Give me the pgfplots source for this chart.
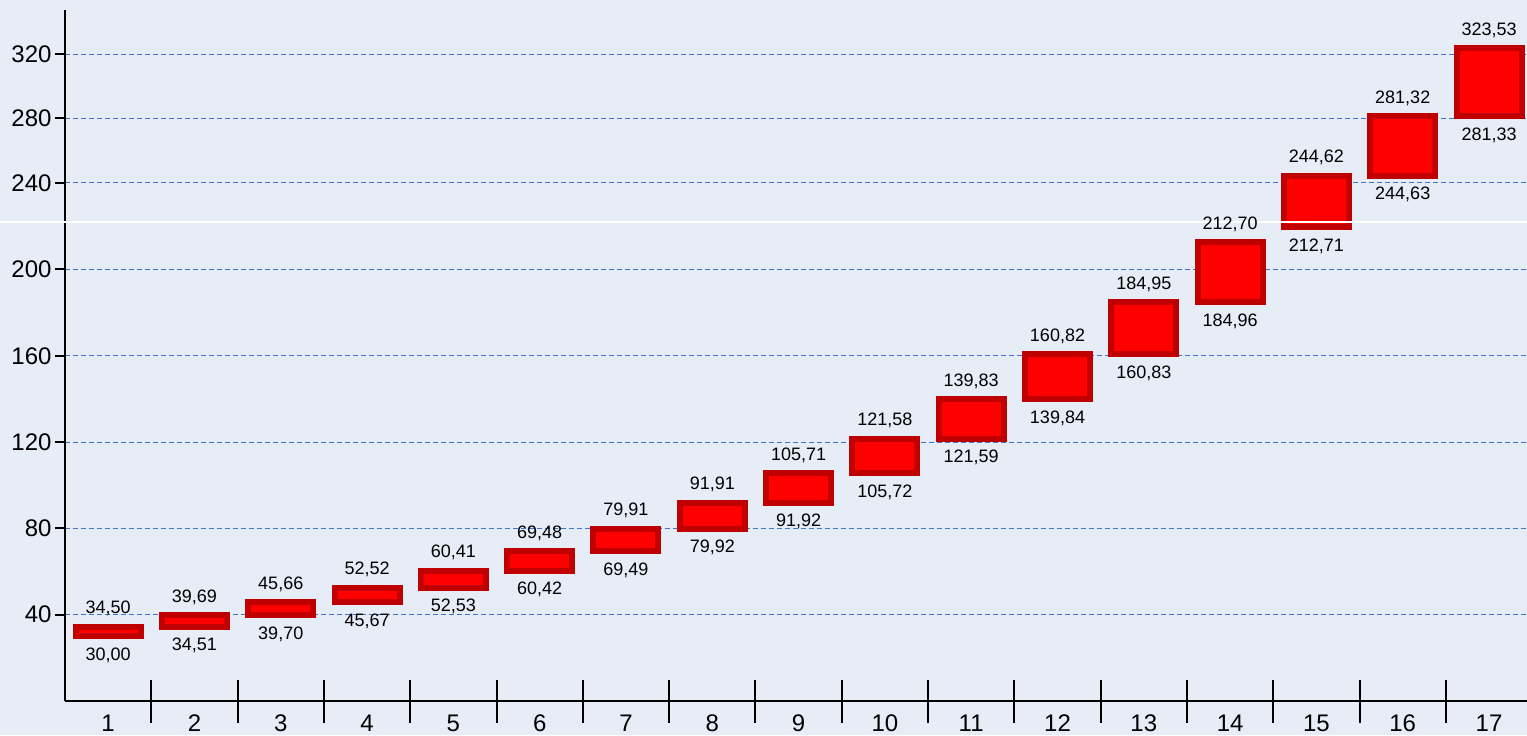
\documentclass[border=0pt]{standalone}
\usepackage{fontspec}
\setmainfont{Liberation Sans}
\usepackage{pgfplots}
\pgfplotsset{compat=1.18}
\usepackage{pgfplotstable}
\definecolor{bg}{RGB}{230,237,247}
\definecolor{gridblue}{RGB}{68,114,196}
\definecolor{barred}{RGB}{255,0,0}
\definecolor{bardark}{RGB}{192,0,0}

\pgfplotstableread{
x low high lowlab highlab
1 30.00 34.50 30,00 34,50
2 34.51 39.69 34,51 39,69
3 39.70 45.66 39,70 45,66
4 45.67 52.52 45,67 52,52
5 52.53 60.41 52,53 60,41
6 60.42 69.48 60,42 69,48
7 69.49 79.91 69,49 79,91
8 79.92 91.91 79,92 91,91
9 91.92 105.71 91,92 105,71
10 105.72 121.58 105,72 121,58
11 121.59 139.83 121,59 139,83
12 139.84 160.82 139,84 160,82
13 160.83 184.95 160,83 184,95
14 184.96 212.70 184,96 212,70
}\lowtab
\pgfplotstableread{
x low high lowlab highlab
15 212.71 244.62 212,71 244,62
16 244.63 281.32 244,63 281,32
17 281.33 323.53 281,33 323,53
}\uptab

\pgfplotsset{
  geom/.style={
    width=731pt, scale only axis, xmin=0.5, xmax=17.44,
    clip=false, anchor=south west,
  },
  common/.style={
    geom,
    ybar stacked, bar width=32.5pt,
    axis line style={black, line width=1pt},
    ytick align=outside, major tick length=5pt,
    major y tick style={black, line width=1pt},
    ymajorgrids,
    grid style={gridblue, line width=0.5pt, dash pattern=on 2.5pt off 1.5pt},
    /pgf/number format/assume math mode=true,
    tick label style={font=\fontsize{12}{14}\selectfont},
    yticklabel style={xshift=1.8pt},
  },
  basebar/.style={draw=none, fill=none},
  visbar/.style={draw=bardark, fill=barred, line width=3pt},
  lowlabel/.style={draw=none, nodes near coords,
    point meta=explicit symbolic,
    every node near coord/.style={anchor=north, inner sep=0pt, yshift=-5.6pt,
      font=\fontsize{9}{10}\selectfont, text=black}},
  highlabel/.style={draw=none, nodes near coords,
    point meta=explicit symbolic,
    every node near coord/.style={anchor=south, inner sep=0pt, yshift=5pt,
      font=\fontsize{9}{10}\selectfont, text=black}},
}

\begin{document}
\begin{tikzpicture}
\fill[bg] (0,0) rectangle (763.5pt,367.5pt);
\useasboundingbox (0,0) rectangle (763.5pt,367.5pt);

\begin{axis}[common,
  at={(32.5pt,17pt)}, height=239.5pt,
  ymin=0, ymax=222,
  axis x line*=bottom, axis y line*=left,
  ytick={40,80,...,200},
  xtick={1,...,17},
  major x tick style={draw=none},
  minor xtick={1.5,2.5,...,16.5},
  minor tick length=21.5pt,
  xtick align=center,
  minor x tick style={black, line width=1pt},
  xticklabel style={yshift=-1pt},
]
\addplot[basebar] table[x=x, y=low] {\lowtab};
\addplot[visbar] table[x=x, y expr=\thisrow{high}-\thisrow{low}] {\lowtab};
\end{axis}

\begin{axis}[common,
  at={(32.5pt,256.5pt)}, height=106pt,
  ymin=215.8, ymax=347.3,
  axis x line=none, axis y line*=left,
  ytick={240,280,320},
]
\addplot[basebar] table[x=x, y=low] {\uptab};
\addplot[visbar] table[x=x, y expr=\thisrow{high}-\thisrow{low}] {\uptab};
\end{axis}

\draw[white, line width=0.75pt] (0,256.5pt) -- (763.5pt,256.5pt);

% value labels
\begin{axis}[geom, hide axis, at={(32.5pt,17pt)}, height=239.5pt, ymin=0, ymax=222]
\addplot[lowlabel] table[x=x, y=low, meta=lowlab] {\lowtab};
\addplot[highlabel] table[x=x, y=high, meta=highlab] {\lowtab};
\end{axis}
\begin{axis}[geom, hide axis, at={(32.5pt,256.5pt)}, height=106pt, ymin=215.8, ymax=347.3]
\addplot[lowlabel] table[x=x, y=low, meta=lowlab] {\uptab};
\addplot[highlabel] table[x=x, y=high, meta=highlab] {\uptab};
\end{axis}
\end{tikzpicture}
\end{document}
